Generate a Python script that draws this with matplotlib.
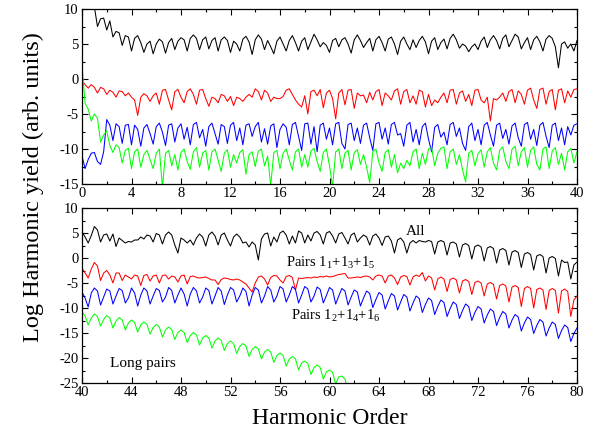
import numpy as np
import matplotlib
matplotlib.use("Agg")
import matplotlib.pyplot as plt
from matplotlib.ticker import MultipleLocator

plt.rcParams['font.family'] = ['Liberation Serif', 'DejaVu Serif']
plt.rcParams['mathtext.fontset'] = 'custom'
plt.rcParams['mathtext.rm'] = 'Liberation Serif'
plt.rcParams['mathtext.default'] = 'regular'
plt.rcParams['axes.unicode_minus'] = False

# ---------------- data ----------------
harmonic_step = 0.25
top_start = 0.0
bottom_start = 40.0

top_black = [
    14.0, 13.0, 12.0, 11.0, 10.3, 7.5, 8.6, 8.7,
    7.0, 8.3, 6.0, 6.8, 6.6, 4.8, 6.2, 6.0,
    4.0, 5.8, 6.2, 5.2, 3.8, 5.0, 5.4, 3.6,
    5.0, 5.7, 5.3, 3.7, 5.2, 5.8, 4.2, 5.4,
    5.9, 5.6, 4.0, 5.8, 6.3, 5.8, 4.2, 5.6,
    6.0, 4.3, 5.5, 5.9, 4.0, 5.6, 6.0, 5.5,
    3.8, 5.4, 5.0, 4.0, 5.7, 6.1, 5.3, 3.5,
    5.6, 6.3, 5.7, 4.2, 5.5, 4.6, 3.6, 5.4,
    6.0, 5.0, 4.0, 5.5, 6.2, 5.2, 4.0, 5.4,
    5.9, 4.2, 5.3, 6.4, 5.6, 4.6, 5.2, 4.8,
    3.8, 5.5, 5.8, 4.6, 5.6, 5.9, 5.0, 3.7,
    5.6, 6.3, 5.5, 4.5, 5.2, 5.8, 4.0, 5.6,
    6.1, 5.2, 4.0, 5.7, 6.0, 5.0, 3.5, 5.4,
    6.0, 5.0, 4.2, 5.6, 4.5, 5.5, 6.1, 5.3,
    3.6, 5.4, 5.9, 4.2, 5.2, 5.7, 4.3, 5.8,
    6.4, 5.6, 4.4, 5.0, 4.7, 3.9, 4.6, 5.0,
    4.2, 5.4, 6.0, 4.5, 5.6, 6.2, 5.5, 4.3,
    5.8, 6.3, 4.6, 5.5, 6.4, 6.0, 4.3, 5.2,
    5.9, 4.2, 5.6, 6.1, 5.3, 4.0, 5.7, 6.2,
    5.8, 4.6, 1.6, 5.0, 5.3, 4.4, 5.0, 4.0,
    5.5,
]

top_red = [
    -0.3, -0.8, -1.3, -0.8, -1.2, -2.0, -1.2, -1.4,
    -2.2, -1.6, -1.9, -2.6, -1.7, -1.8, -2.4, -2.0,
    -2.6, -3.0, -5.2, -2.6, -2.1, -2.4, -3.2, -2.4,
    -2.0, -3.6, -1.6, -1.5, -3.0, -4.4, -1.8, -1.5,
    -2.6, -3.4, -1.8, -1.4, -2.2, -3.6, -1.6, -1.5,
    -2.8, -3.9, -2.6, -2.8, -3.4, -2.2, -2.4, -3.2,
    -2.5, -3.8, -2.6, -2.8, -3.2, -2.6, -2.2, -2.6,
    -1.4, -1.8, -3.0, -1.6, -2.0, -3.2, -2.6, -2.8,
    -2.8, -2.5, -1.6, -1.4, -2.2, -3.0, -3.6, -4.0,
    -2.4, -5.0, -1.8, -1.6, -2.4, -1.5, -4.1, -2.0,
    -1.6, -2.8, -5.7, -2.0, -1.5, -3.7, -1.6, -1.5,
    -4.2, -2.0, -2.4, -2.3, -3.4, -1.9, -3.0, -1.8,
    -1.5, -3.8, -2.0, -2.4, -3.0, -1.7, -1.4, -3.6,
    -1.8, -1.5, -3.4, -2.4, -3.6, -1.6, -1.8, -4.0,
    -2.2, -3.8, -3.0, -3.4, -2.6, -2.0, -3.4, -1.6,
    -1.5, -3.6, -2.0, -1.7, -3.2, -2.2, -3.8, -1.6,
    -1.5, -3.0, -3.4, -2.6, -6.0, -2.8, -3.0, -2.6,
    -2.0, -3.2, -1.8, -1.5, -3.4, -1.7, -2.2, -3.6,
    -1.6, -1.3, -3.0, -4.2, -1.5, -1.3, -3.6, -1.8,
    -1.5, -4.4, -1.6, -1.4, -3.4, -1.7, -2.6, -1.5,
    -1.4,
]

top_blue = [
    -11.0, -12.8, -11.5, -10.6, -10.5, -11.8, -12.2, -10.4,
    -5.8, -6.6, -8.8, -6.4, -6.8, -9.2, -6.6, -6.5,
    -9.4, -6.6, -7.2, -9.6, -7.0, -6.5, -7.8, -9.3,
    -6.8, -6.3, -7.6, -9.5, -6.6, -6.4, -9.0, -7.0,
    -6.4, -8.6, -6.9, -9.4, -6.5, -6.2, -8.4, -7.2,
    -9.6, -6.8, -6.3, -7.8, -9.3, -6.5, -6.8, -9.2,
    -6.6, -6.2, -8.8, -7.0, -9.4, -6.6, -6.4, -8.2,
    -6.8, -6.2, -9.0, -7.1, -9.3, -6.7, -6.4, -9.8,
    -7.2, -6.4, -6.9, -9.4, -6.5, -6.2, -8.2, -10.2,
    -6.4, -6.3, -9.3, -6.8, -10.4, -6.6, -6.3, -8.6,
    -7.0, -9.4, -6.4, -6.2, -9.2, -10.0, -6.5, -6.3,
    -8.8, -7.0, -9.2, -6.6, -6.3, -8.4, -10.2, -6.4,
    -6.2, -8.6, -7.0, -9.3, -6.5, -6.2, -8.0, -7.8,
    -9.6, -6.6, -6.2, -9.0, -7.2, -9.4, -6.8, -6.3,
    -8.6, -10.4, -6.9, -6.5, -8.3, -7.6, -9.4, -6.5,
    -6.2, -8.2, -7.0, -9.2, -10.2, -6.8, -6.3, -8.8,
    -7.2, -9.4, -6.6, -6.2, -8.0, -9.6, -6.6, -6.3,
    -8.5, -7.2, -9.3, -6.7, -6.3, -8.4, -9.6, -6.5,
    -6.2, -8.6, -7.2, -9.5, -6.6, -6.2, -8.2, -9.8,
    -6.6, -6.3, -8.8, -7.0, -9.4, -6.8, -8.0, -6.6,
    -6.4,
]

top_green = [
    2.0, -3.5, -4.3, -6.0, -5.0, -5.6, -9.0, -8.0,
    -7.4, -9.5, -10.5, -9.4, -9.8, -12.0, -10.2, -9.9,
    -12.8, -10.4, -10.0, -12.6, -10.8, -10.2, -11.5, -12.8,
    -10.6, -10.0, -15.5, -10.6, -10.2, -12.4, -10.8, -13.0,
    -10.5, -10.0, -11.8, -12.9, -10.4, -9.8, -12.6, -10.6,
    -10.2, -13.0, -10.4, -10.0, -11.6, -13.2, -10.6, -10.1,
    -12.6, -10.8, -12.0, -10.5, -10.1, -13.6, -10.8, -10.4,
    -12.5, -10.3, -10.0, -12.4, -11.0, -15.2, -10.5, -10.2,
    -12.8, -10.6, -10.0, -11.6, -13.0, -10.4, -10.0, -12.6,
    -10.8, -12.6, -10.3, -9.9, -11.8, -13.2, -10.5, -10.0,
    -12.4, -15.4, -10.4, -10.0, -12.8, -10.6, -10.2, -13.0,
    -10.5, -10.1, -12.2, -10.8, -12.6, -14.8, -10.4, -10.0,
    -12.0, -13.2, -10.5, -10.1, -12.6, -10.8, -13.4, -12.0,
    -12.8, -11.6, -12.4, -10.4, -10.0, -12.8, -10.6, -12.2,
    -10.0, -9.8, -12.4, -10.6, -9.9, -9.7, -12.8, -10.4,
    -10.0, -12.2, -10.8, -13.0, -14.7, -10.6, -10.2, -12.4,
    -10.7, -10.1, -12.6, -10.4, -9.8, -12.0, -13.0, -10.2,
    -9.7, -11.8, -12.8, -10.0, -9.6, -12.4, -10.4, -9.8,
    -12.6, -10.2, -9.7, -12.2, -13.0, -10.0, -9.7, -12.8,
    -10.3, -9.8, -12.2, -10.6, -13.0, -10.4, -9.9, -12.0,
    -10.4,
]

bottom_black = [
    5.2, 4.2, 3.0, 4.5, 6.3, 5.6, 3.2, 4.6,
    4.8, 3.4, 4.8, 2.3, 4.0, 3.5, 3.0, 3.3,
    3.2, 3.6, 3.6, 4.2, 3.8, 4.6, 4.4, 3.2,
    4.9, 4.6, 2.8, 4.6, 5.2, 4.6, 2.6, 1.0,
    4.0, 3.6, 3.0, 3.6, 2.6, 4.0, 4.8, 4.2,
    2.4, 4.6, 5.2, 4.4, 2.6, 4.6, 5.0, 3.6,
    2.4, 4.2, 4.8, 4.2, 3.0, 3.2, 2.2, 3.2,
    2.6, -0.4, 3.8, 4.8, 5.0, 2.4, 4.2, 3.2,
    5.0, 5.4, 4.6, 2.8, 4.4, 3.0, 5.4, 5.0,
    3.0, 4.6, 3.4, 5.0, 5.3, 4.6, 2.8, 5.0,
    5.3, 4.4, 3.0, 4.8, 5.1, 4.0, 2.8, 4.6,
    5.0, 3.2, 4.0, 4.6, 4.2, 2.6, 4.4, 4.8,
    4.0, 2.5, 4.2, 4.4, 3.4, 1.0, 3.6, 4.0,
    3.2, 1.0, 3.0, 3.5, 3.0, 3.5, 3.3, 3.2,
    3.5, 3.3, 0.8, 3.2, 3.5, 3.2, 0.6, 3.0,
    3.2, 2.8, 0.2, 2.6, 2.9, 2.5, -0.2, 2.3,
    2.6, 2.2, -0.6, 2.0, 2.3, 1.9, -1.0, 1.6,
    1.9, 1.5, -1.4, 1.2, 1.5, 1.1, -1.9, 0.8,
    1.1, 0.7, -2.4, 0.4, 0.7, 0.3, -3.0, 0.0,
    0.3, -0.1, -3.6, -0.4, -0.9, -0.8, -4.2, -1.4,
    -0.8,
]

bottom_red = [
    -2.0, -3.0, -4.0, -2.2, -0.9, -1.6, -4.5, -3.0,
    -2.5, -3.4, -5.0, -3.0, -3.0, -4.5, -3.4, -3.8,
    -4.2, -3.4, -3.6, -5.5, -3.5, -3.3, -4.6, -3.6,
    -3.4, -5.0, -3.5, -3.4, -4.2, -3.6, -3.8, -4.8,
    -3.6, -3.4, -5.2, -3.7, -3.6, -3.9, -4.0, -3.9,
    -3.8, -4.1, -4.4, -4.4, -5.3, -4.3, -4.0, -4.1,
    -4.3, -4.4, -4.2, -4.4, -4.8, -5.2, -6.0, -6.8,
    -5.0, -3.8, -3.6, -4.2, -5.4, -3.9, -3.5, -3.6,
    -4.4, -5.0, -3.7, -3.5, -3.9, -6.4, -4.0, -4.1,
    -4.0, -3.9, -4.0, -3.8, -3.9, -3.7, -3.8, -3.6,
    -3.8, -3.7, -3.5, -3.3, -3.2, -3.1, -4.0, -4.0,
    -3.9, -3.8, -3.9, -3.7, -3.6, -3.8, -4.4, -3.6,
    -3.4, -3.6, -5.0, -3.6, -3.4, -4.0, -5.3, -3.8,
    -3.5, -3.7, -5.4, -3.8, -3.4, -3.7, -2.9, -4.6,
    -3.6, -4.0, -6.4, -4.2, -3.8, -4.2, -6.7, -4.3,
    -4.0, -4.4, -7.0, -4.6, -4.3, -4.7, -7.3, -4.9,
    -4.6, -5.0, -7.6, -5.2, -4.9, -5.3, -8.2, -5.5,
    -5.2, -5.6, -8.8, -5.8, -5.5, -5.9, -9.7, -6.1,
    -5.7, -6.1, -10.0, -6.3, -6.0, -6.4, -10.3, -6.5,
    -6.1, -6.5, -11.0, -6.6, -6.2, -6.7, -11.7, -8.4,
    -7.6,
]

bottom_blue = [
    -6.8, -8.0, -9.8, -7.0, -6.0, -6.6, -9.4, -7.8,
    -6.2, -6.6, -9.2, -7.6, -6.1, -6.5, -9.0, -8.0,
    -6.0, -7.0, -9.6, -7.4, -6.0, -6.6, -9.2, -7.6,
    -6.1, -6.5, -8.8, -7.8, -5.9, -6.5, -9.0, -7.4,
    -6.0, -7.2, -9.6, -7.2, -5.9, -6.6, -9.0, -7.8,
    -6.0, -6.5, -9.2, -7.6, -5.9, -6.6, -9.3, -7.4,
    -5.9, -6.4, -8.8, -7.6, -6.0, -6.7, -9.6, -7.4,
    -5.9, -6.4, -9.0, -7.6, -5.7, -6.4, -8.8, -7.6,
    -5.7, -6.2, -8.8, -7.4, -5.7, -6.3, -9.0, -7.4,
    -5.7, -6.2, -8.8, -7.6, -5.8, -6.3, -9.0, -7.5,
    -5.9, -6.4, -9.2, -7.6, -6.1, -6.6, -9.4, -7.8,
    -6.4, -6.8, -9.6, -8.0, -6.6, -7.1, -9.9, -8.3,
    -6.9, -7.4, -10.2, -8.6, -7.1, -7.6, -10.4, -8.8,
    -7.3, -7.8, -10.6, -9.0, -7.6, -8.1, -10.9, -9.3,
    -8.0, -8.5, -11.3, -9.7, -8.4, -8.9, -11.7, -10.1,
    -8.8, -9.3, -12.1, -10.5, -9.2, -9.7, -12.5, -10.9,
    -9.7, -10.2, -13.0, -11.4, -10.2, -10.7, -13.5, -11.9,
    -10.7, -11.2, -14.0, -12.4, -11.3, -11.8, -14.6, -13.0,
    -11.8, -12.3, -15.1, -13.5, -12.3, -12.8, -15.6, -14.0,
    -12.8, -13.3, -16.1, -14.5, -13.4, -13.9, -16.7, -15.1,
    -14.0,
]

bottom_green = [
    -10.8, -11.6, -13.4, -12.0, -11.2, -11.7, -13.6, -12.3,
    -11.5, -12.0, -14.0, -12.6, -11.9, -12.4, -14.4, -13.0,
    -12.4, -12.9, -14.8, -13.4, -12.8, -13.3, -15.2, -13.9,
    -13.3, -13.8, -15.8, -14.4, -13.8, -14.3, -16.3, -14.9,
    -14.4, -14.9, -16.9, -15.5, -14.9, -15.4, -17.4, -16.0,
    -15.5, -16.0, -18.0, -16.6, -16.0, -16.5, -18.5, -17.1,
    -16.6, -17.1, -19.1, -17.7, -17.1, -17.6, -19.7, -18.3,
    -17.7, -18.2, -20.2, -18.8, -18.3, -18.8, -20.9, -19.5,
    -19.0, -19.5, -21.6, -20.2, -19.7, -20.2, -22.4, -21.0,
    -20.6, -21.1, -23.3, -21.9, -21.4, -21.9, -24.2, -22.8,
    -22.4, -22.9, -25.2, -23.8, -23.6, -24.2, -26.5, -25.5,
    -26.0,
]

top_xticks = [0, 4, 8, 12, 16, 20, 24, 28, 32, 36, 40]
bottom_xticks = [40, 44, 48, 52, 56, 60, 64, 68, 72, 76, 80]
top_yticks = [-15, -10, -5, 0, 5, 10]
bottom_yticks = [-25, -20, -15, -10, -5, 0, 5, 10]

labels = {
    'all': 'All',
    'odd': 'Pairs 1$_1$+1$_3$+1$_5$',
    'even': 'Pairs 1$_2$+1$_4$+1$_6$',
    'long': 'Long pairs',
}


def xs(start, arr):
    return start + harmonic_step * np.arange(len(arr))


fig = plt.figure(figsize=(6.02, 4.34), dpi=100)
W, H = 602.0, 434.0
ax1 = fig.add_axes([82 / W, 1 - 184 / H, 495 / W, 175 / H])
ax2 = fig.add_axes([82 / W, 1 - 383 / H, 495 / W, 175 / H])

lw = 0.75
colors = ['black', '#ff0000', '#0000ff', '#00ff00']

for arr, c in zip([top_black, top_red, top_blue, top_green], colors):
    ax1.plot(xs(top_start, arr), arr, color=c, lw=lw)
for arr, c in zip([bottom_black, bottom_red, bottom_blue, bottom_green], colors):
    ax2.plot(xs(bottom_start, arr), arr, color=c, lw=lw)

ax1.set_xlim(0, 40)
ax1.set_ylim(-15, 10)
ax2.set_xlim(40, 80)
ax2.set_ylim(-25, 10)

for ax, xt, yt in [(ax1, top_xticks, top_yticks), (ax2, bottom_xticks, bottom_yticks)]:
    ax.set_xticks(xt)
    ax.set_yticks(yt)
    ax.set_xticklabels([str(v) for v in xt])
    ax.set_yticklabels([str(v) for v in yt])
    ax.xaxis.set_minor_locator(MultipleLocator(2))
    ax.yaxis.set_minor_locator(MultipleLocator(2.5))
    ax.tick_params(which='both', direction='in', top=True, right=True,
                   labelsize=10.5, pad=2.5, width=0.8, colors='black')
    ax.tick_params(which='major', length=4)
    ax.tick_params(which='minor', length=2.5)
    for s in ax.spines.values():
        s.set_linewidth(0.9)

ax2.text(66.2, 4.6, labels['all'], fontsize=11, ha='left', va='baseline')
ax2.text(56.5, -1.8, labels['odd'], fontsize=10.5, ha='left', va='baseline')
ax2.text(56.9, -12.4, labels['even'], fontsize=10.5, ha='left', va='baseline')
ax2.text(42.3, -21.7, labels['long'], fontsize=11, ha='left', va='baseline')

fig.text(33 / W, 1 - 187 / H, 'Log Harmonic yield (arb. units)', rotation=90,
         fontsize=17.5, ha='center', va='center')
fig.text(329.5 / W, 1 - 418 / H, 'Harmonic Order', fontsize=17,
         ha='center', va='center')

fig.savefig('out.png', dpi=100)
